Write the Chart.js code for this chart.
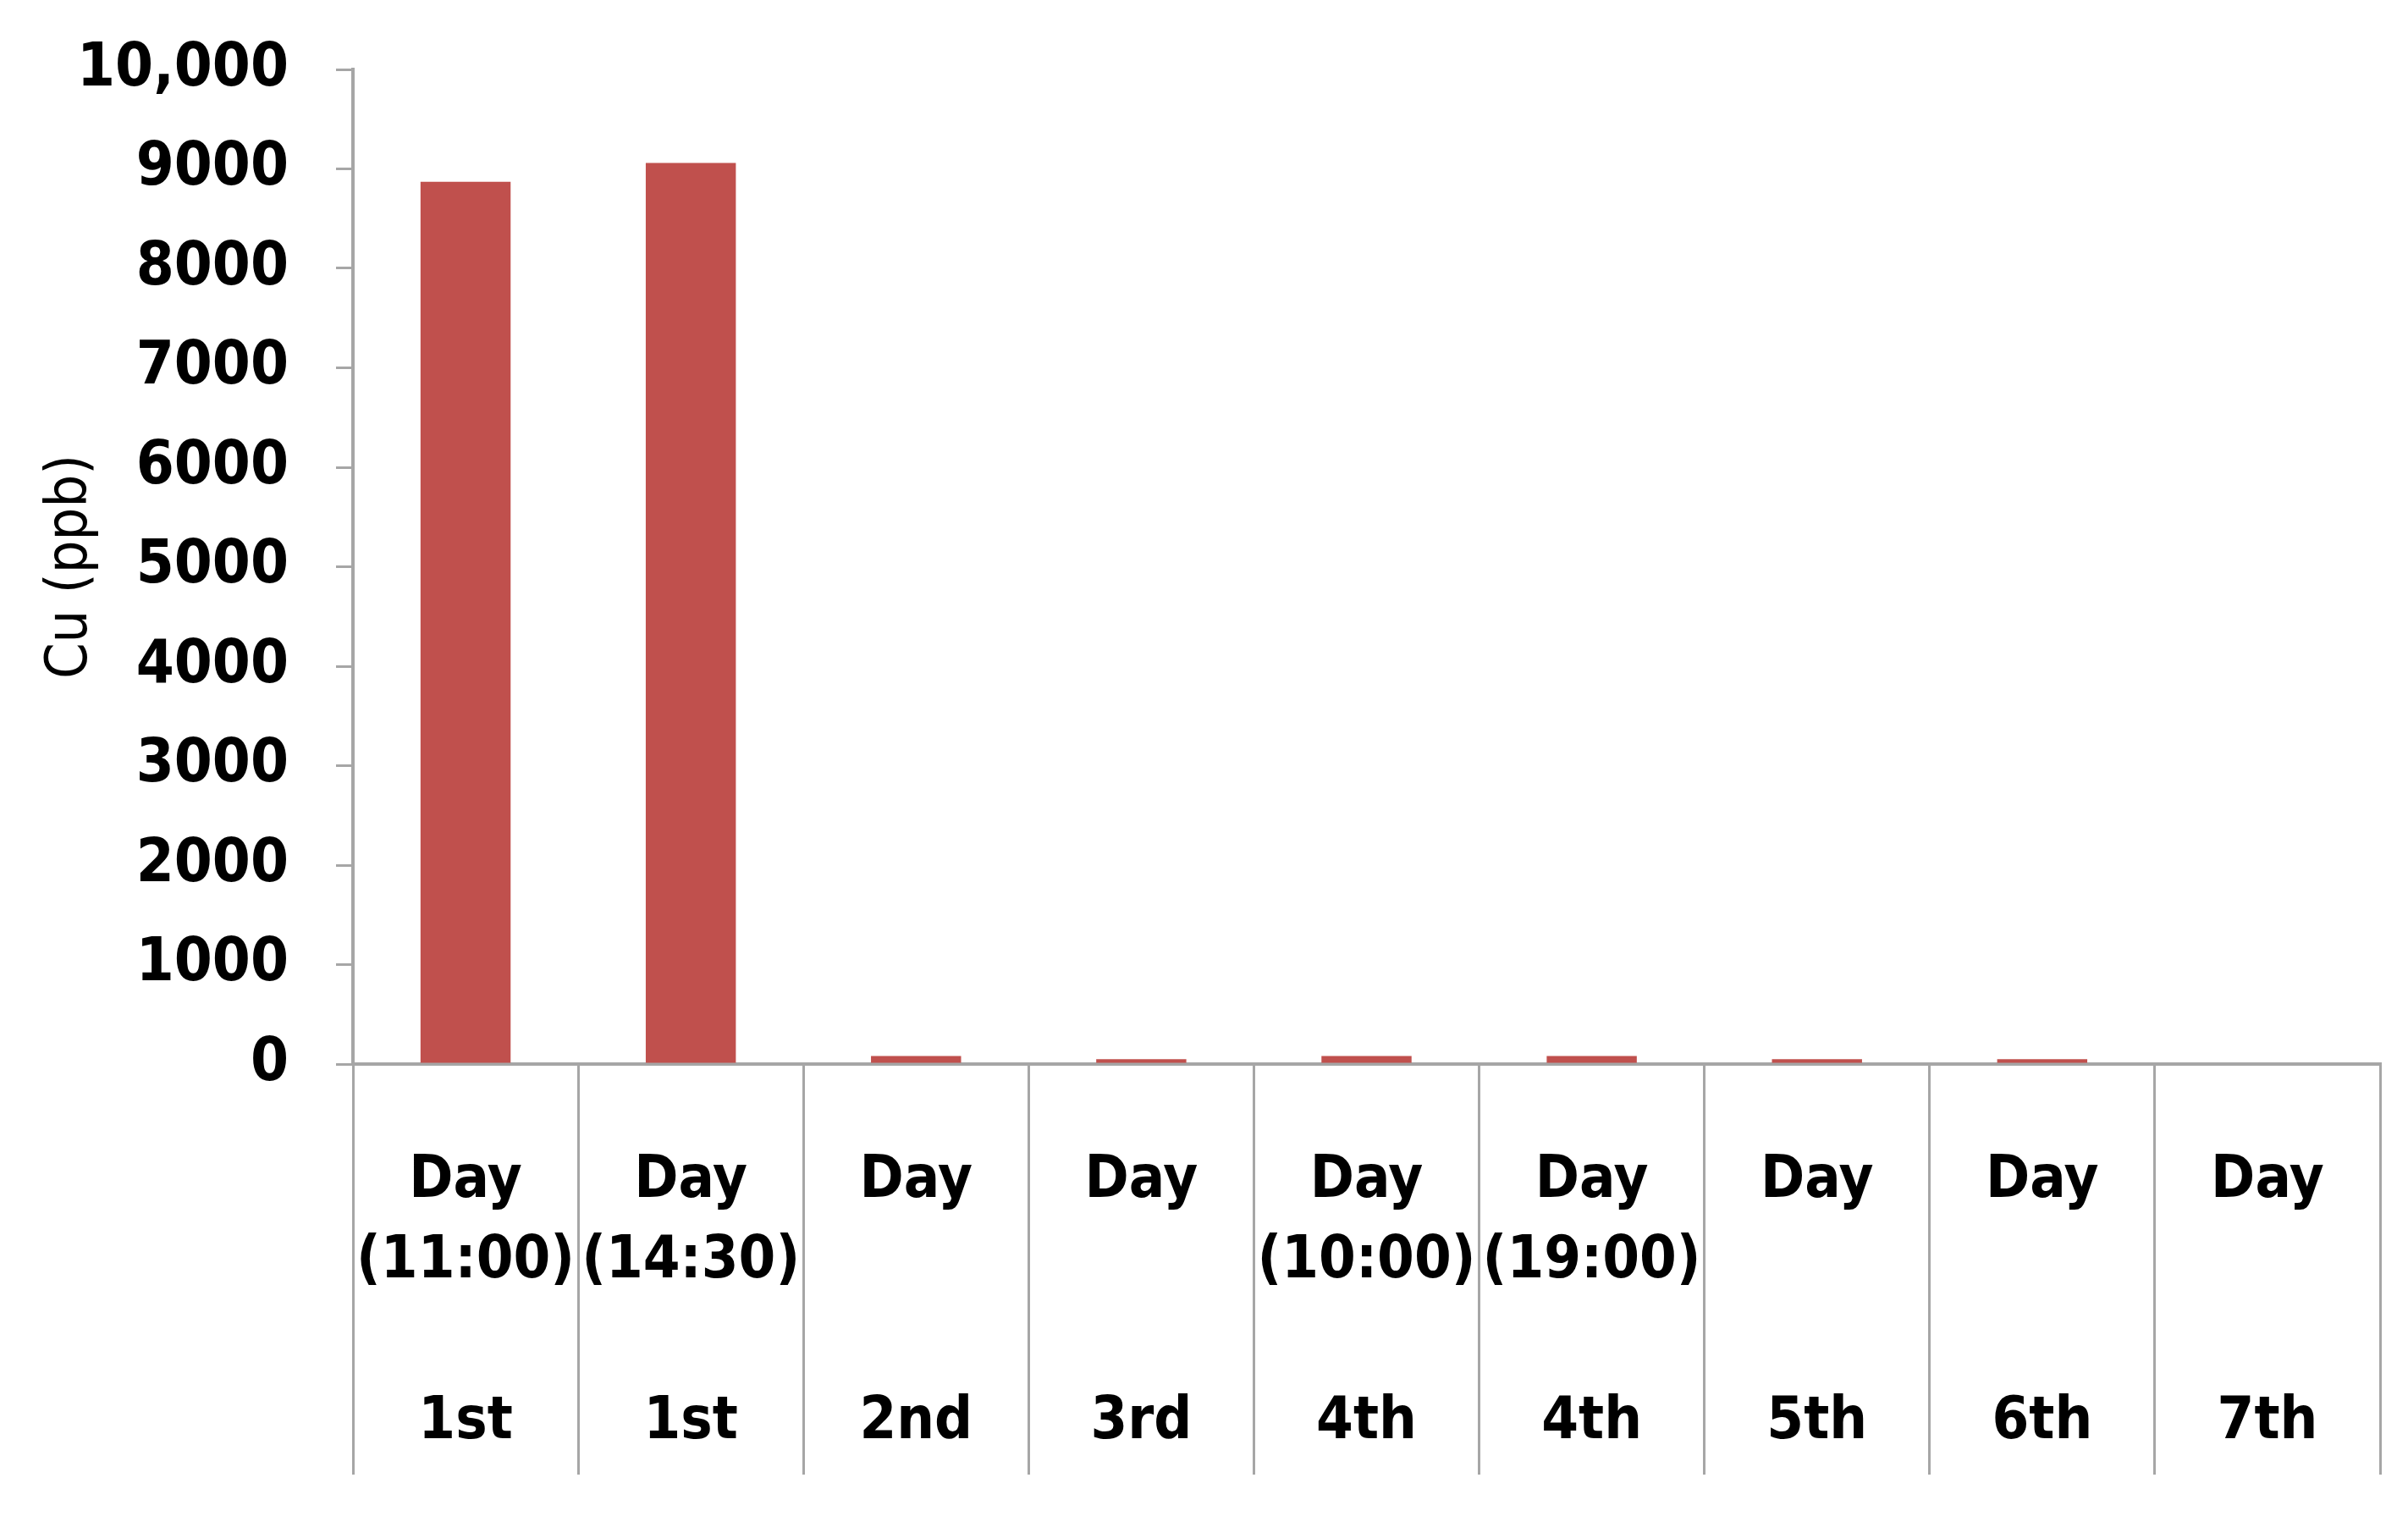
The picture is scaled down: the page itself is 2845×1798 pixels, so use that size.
<!DOCTYPE html>
<html>
<head>
<meta charset="utf-8">
<script src="https://cdn.jsdelivr.net/npm/chart.js@4/dist/chart.umd.min.js"></script>
<style>
  html, body { margin: 0; padding: 0; background: #fff; }
  canvas { display: block; }
</style>
</head>
<body>
<canvas id="cu-chart" width="2845" height="1798"></canvas>
<script>
// category labels: time line, blank line, then day
const dayTimes = ['(11:00)', '(14:30)', '', '', '(10:00)', '(19:00)', '', '', ''];
const dayNames = ['1st', '1st', '2nd', '3rd', '4th', '4th', '5th', '6th', '7th'];
const cuValues = [8870, 9060, 80, 50, 80, 80, 50, 50, 0];
const yTicks = [0, 1000, 2000, 3000, 4000, 5000, 6000, 7000, 8000, 9000, 10000];

const labels = dayNames.map((d, i) => ['Day', dayTimes[i], '', d]);
const axisGrey = '#a6a6a6';
const fontFace = '"DejaVu Sans Condensed", "DejaVu Sans", sans-serif';

const ctx = document.getElementById('cu-chart').getContext('2d');
new Chart(ctx, {
    type: 'bar',
    data: {
        labels: labels,
        datasets: [{
            label: 'Cu (ppb)',
            data: cuValues,
            backgroundColor: '#c0504d',
            borderWidth: 0,
            categoryPercentage: 1.0,
            barPercentage: 0.4
        }]
    },
    options: {
        responsive: false,
        animation: false,
        layout: { padding: { top: 82, right: 33, bottom: 0, left: 0 } },
        plugins: {
            legend: { display: false },
            tooltip: { enabled: false }
        },
        scales: {
            x: {
                grid: {
                    offset: true,
                    drawOnChartArea: false,
                    drawTicks: true,
                    tickLength: 485,
                    color: axisGrey,
                    lineWidth: 3
                },
                border: { color: axisGrey, width: 4 },
                ticks: {
                    color: '#000',
                    padding: -394,
                    maxRotation: 0,
                    autoSkip: false,
                    font: { family: fontFace, size: 70, weight: 'bold', lineHeight: 1.36 }
                },
                afterFit: (scale) => { scale.height = 541; }
            },
            y: {
                min: 0,
                max: 10000,
                afterBuildTicks: (scale) => { scale.ticks = yTicks.map(v => ({ value: v })); },
                grid: {
                    drawOnChartArea: false,
                    drawTicks: true,
                    tickLength: 20,
                    color: axisGrey,
                    lineWidth: 3
                },
                border: { color: axisGrey, width: 4 },
                ticks: {
                    color: '#000',
                    padding: 56,
                    font: { family: fontFace, size: 72, weight: 'bold' },
                    callback: (v) => v === 10000 ? '10,000' : String(v)
                },
                title: {
                    display: true,
                    text: 'Cu (ppb)',
                    color: '#000',
                    padding: { top: 44, bottom: 0 },
                    font: { family: fontFace, size: 68, weight: 'normal' }
                },
                afterFit: (scale) => {
                    scale.width = 417;
                    scale.paddingTop = 0;
                    scale.paddingBottom = 0;
                }
            }
        }
    }
});
</script>
</body>
</html>
